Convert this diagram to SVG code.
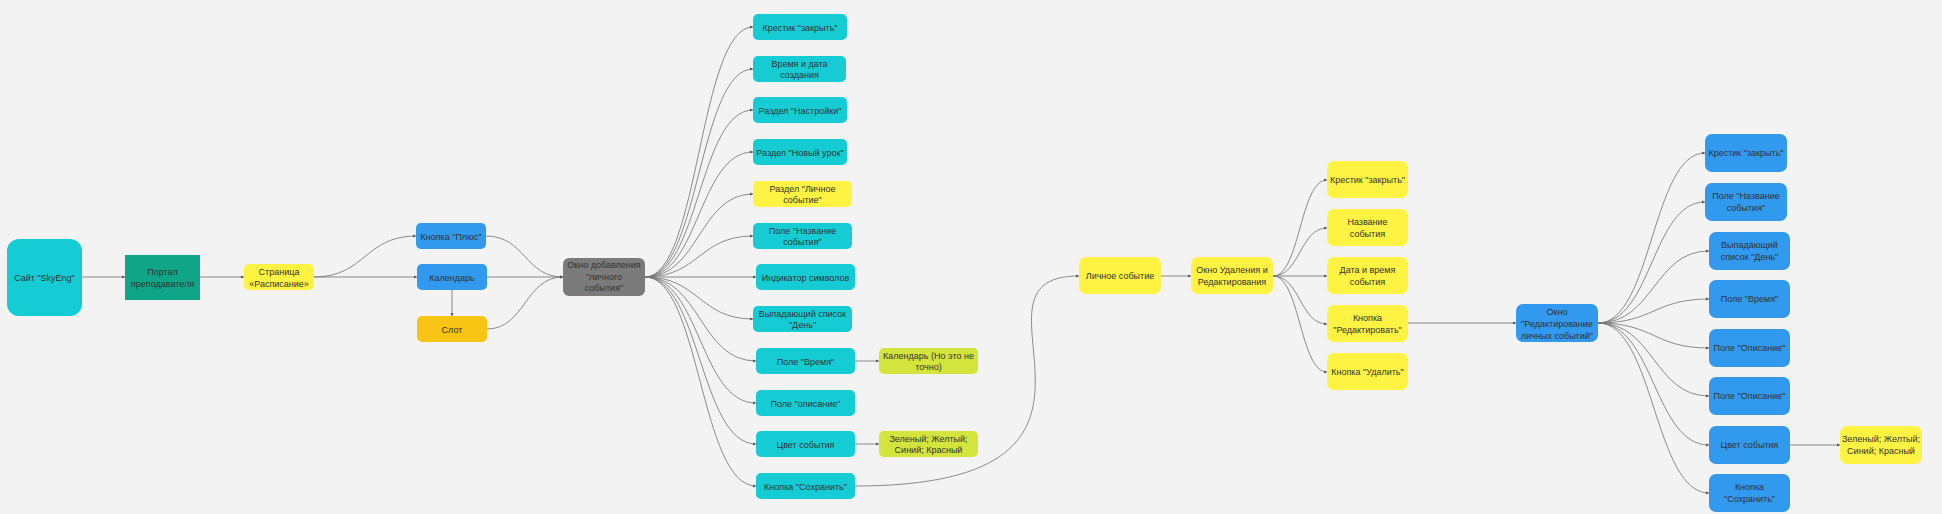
<svg xmlns="http://www.w3.org/2000/svg" width="1942" height="514" viewBox="0 0 1942 514">
<defs>
<marker id="ah" markerWidth="3.5" markerHeight="3.5" refX="3.5" refY="1.75" orient="auto" markerUnits="userSpaceOnUse">
<path d="M0,0 L3.5,1.75 L0,3.5 Z" fill="#555"/>
</marker>
<style>
.bg{fill:#f3f3f3}
.e{fill:none;stroke:#777;stroke-width:0.85;marker-end:url(#ah)}
text{font-family:"Liberation Sans","Noto Sans",Arial,sans-serif;font-size:9px;fill:#333;text-anchor:middle}
.cy{fill:#15ccd4}
.bl{fill:#3199ee}
.ye{fill:#fef342}
.sl{fill:#f8c514}
.li{fill:#d3e43c}
.gr{fill:#7b7b7b}
.tg{fill:#0fa586}
</style>
</defs>
<rect class="bg" x="0" y="0" width="1942" height="514"/>

<g id="connectors">
<path class="e" d="M82,277 L125,277"/>
<path class="e" d="M200,277 L244,277"/>
<path class="e" d="M314,277 C365,277 365,236 416,236"/>
<path class="e" d="M314,277 L417,277"/>
<path class="e" d="M452,290 L452,316"/>
<path class="e" d="M486,236 C525,236 525,277 563,277"/>
<path class="e" d="M487,277 L563,277"/>
<path class="e" d="M487,329 C525,329 525,277 563,277"/>
<path class="e" d="M645,277 C699,277 699,27 753,27"/>
<path class="e" d="M645,277 C699,277 699,69 753,69"/>
<path class="e" d="M645,277 C699,277 699,110 753,110"/>
<path class="e" d="M645,277 C699,277 699,152 753,152"/>
<path class="e" d="M645,277 C699,277 699,194 753,194"/>
<path class="e" d="M645,277 C699,277 699,236 753,236"/>
<path class="e" d="M645,277 L756,277"/>
<path class="e" d="M645,277 C699,277 699,319 753,319"/>
<path class="e" d="M645,277 C700,277 700,361 756,361"/>
<path class="e" d="M645,277 C700,277 700,403 756,403"/>
<path class="e" d="M645,277 C700,277 700,444 756,444"/>
<path class="e" d="M645,277 C700,277 700,486 756,486"/>
<path class="e" d="M855,361 L879,361"/>
<path class="e" d="M855,444 L879,444"/>
<path class="e" d="M855,486 C1170,486 946,276 1079,276"/>
<path class="e" d="M1161,276 L1191,276"/>
<path class="e" d="M1273,276 C1300,276 1300,180 1327,180"/>
<path class="e" d="M1273,276 C1300,276 1300,228 1327,228"/>
<path class="e" d="M1273,276 L1327,276"/>
<path class="e" d="M1273,276 C1300,276 1300,324 1327,324"/>
<path class="e" d="M1273,276 C1300,276 1300,372 1327,372"/>
<path class="e" d="M1408,323 L1516,323"/>
<path class="e" d="M1598,323 C1652,323 1652,153 1705,153"/>
<path class="e" d="M1598,323 C1652,323 1652,202 1705,202"/>
<path class="e" d="M1598,323 C1654,323 1654,251 1709,251"/>
<path class="e" d="M1598,323 C1654,323 1654,299 1709,299"/>
<path class="e" d="M1598,323 C1654,323 1654,348 1709,348"/>
<path class="e" d="M1598,323 C1654,323 1654,396 1709,396"/>
<path class="e" d="M1598,323 C1654,323 1654,445 1709,445"/>
<path class="e" d="M1598,323 C1654,323 1654,493 1709,493"/>
<path class="e" d="M1790,445 L1840,445"/>
</g>

<g id="n-site"><rect class="cy" x="7" y="239" width="75" height="77" rx="12"/><text x="44.5" y="280.5">Сайт "SkyEng"</text></g>
<g id="n-portal"><rect class="tg" x="125" y="255" width="75" height="45"/><text x="162.5" y="275">Портал</text><text x="162.5" y="287">преподавателя</text></g>
<g id="n-page"><rect class="ye" x="244" y="264" width="70" height="26" rx="5"/><text x="279" y="275">Страница</text><text x="279" y="287">«Расписание»</text></g>
<g id="n-plus"><rect class="bl" x="416" y="223" width="70" height="26" rx="5"/><text x="451" y="239.5">Кнопка "Плюс"</text></g>
<g id="n-calendar"><rect class="bl" x="417" y="264" width="70" height="26" rx="5"/><text x="452" y="280.5">Календарь</text></g>
<g id="n-slot"><rect class="sl" x="417" y="316" width="70" height="26" rx="5"/><text x="452" y="332.5">Слот</text></g>
<g id="n-addwin"><rect class="gr" x="563" y="258" width="82" height="38" rx="6"/><text x="604" y="268">Окно добавления</text><text x="604" y="279.5">"личного</text><text x="604" y="291">события"</text></g>

<g id="n-a1"><rect class="cy" x="753" y="14" width="94" height="26" rx="5"/><text x="800" y="30.5">Крестик "закрыть"</text></g>
<g id="n-a2"><rect class="cy" x="753" y="56" width="93" height="26" rx="5"/><text x="799.5" y="66.5">Время и дата</text><text x="799.5" y="78">создания</text></g>
<g id="n-a3"><rect class="cy" x="753" y="97" width="94" height="26" rx="5"/><text x="800" y="113.5">Раздел "Настройки"</text></g>
<g id="n-a4"><rect class="cy" x="753" y="139" width="94" height="26" rx="5"/><text x="800" y="155.5">Раздел "Новый урок"</text></g>
<g id="n-a5"><rect class="ye" x="753" y="181" width="99" height="26" rx="5"/><text x="802.5" y="191.5">Раздел "Личное</text><text x="802.5" y="203">событие"</text></g>
<g id="n-a6"><rect class="cy" x="753" y="223" width="99" height="26" rx="5"/><text x="802.5" y="233.5">Поле "Название</text><text x="802.5" y="245">события"</text></g>
<g id="n-a7"><rect class="cy" x="756" y="264" width="99" height="26" rx="5"/><text x="805.5" y="280.5">Индикатор символов</text></g>
<g id="n-a8"><rect class="cy" x="753" y="306" width="99" height="26" rx="5"/><text x="802.5" y="316.5">Выпадающий список</text><text x="802.5" y="328">"День"</text></g>
<g id="n-a9"><rect class="cy" x="756" y="348" width="99" height="26" rx="5"/><text x="805.5" y="364.5">Поле "Время"</text></g>
<g id="n-a10"><rect class="cy" x="756" y="390" width="99" height="26" rx="5"/><text x="805.5" y="406.5">Поле "описание"</text></g>
<g id="n-a11"><rect class="cy" x="756" y="431" width="99" height="26" rx="5"/><text x="805.5" y="447.5">Цвет события</text></g>
<g id="n-a12"><rect class="cy" x="756" y="473" width="99" height="26" rx="5"/><text x="805.5" y="489.5">Кнопка "Сохранить"</text></g>
<g id="n-a9c"><rect class="li" x="879" y="348" width="99" height="26" rx="5"/><text x="928.5" y="358.5">Календарь (Но это не</text><text x="928.5" y="370">точно)</text></g>
<g id="n-a11c"><rect class="li" x="879" y="431" width="99" height="26" rx="5"/><text x="928.5" y="441.5">Зеленый; Желтый;</text><text x="928.5" y="453">Синий; Красный</text></g>

<g id="n-personal"><rect class="ye" x="1079" y="257" width="82" height="37" rx="7"/><text x="1120" y="279">Личное событие</text></g>
<g id="n-delwin"><rect class="ye" x="1191" y="257" width="82" height="37" rx="7"/><text x="1232" y="273">Окно Удаления и</text><text x="1232" y="285">Редактирования</text></g>
<g id="n-d1"><rect class="ye" x="1327" y="161" width="81" height="37" rx="7"/><text x="1367.5" y="183">Крестик "закрыть"</text></g>
<g id="n-d2"><rect class="ye" x="1327" y="209" width="81" height="37" rx="7"/><text x="1367.5" y="225">Название</text><text x="1367.5" y="237">события</text></g>
<g id="n-d3"><rect class="ye" x="1327" y="257" width="81" height="37" rx="7"/><text x="1367.5" y="273">Дата и время</text><text x="1367.5" y="285">события</text></g>
<g id="n-d4"><rect class="ye" x="1327" y="305" width="81" height="37" rx="7"/><text x="1367.5" y="321">Кнопка</text><text x="1367.5" y="333">"Редактировать"</text></g>
<g id="n-d5"><rect class="ye" x="1327" y="353" width="81" height="37" rx="7"/><text x="1367.5" y="375">Кнопка "Удалить"</text></g>

<g id="n-editwin"><rect class="bl" x="1516" y="304" width="82" height="38" rx="7"/><text x="1557" y="315">Окно</text><text x="1557" y="327">"Редактирование</text><text x="1557" y="339">личных событий"</text></g>
<g id="n-e1"><rect class="bl" x="1705" y="134" width="82" height="38" rx="7"/><text x="1746" y="156">Крестик "закрыть"</text></g>
<g id="n-e2"><rect class="bl" x="1705" y="183" width="82" height="38" rx="7"/><text x="1746" y="199">Поле "Название</text><text x="1746" y="211">события"</text></g>
<g id="n-e3"><rect class="bl" x="1709" y="232" width="81" height="38" rx="7"/><text x="1749.5" y="248">Выпадающий</text><text x="1749.5" y="260">список "День"</text></g>
<g id="n-e4"><rect class="bl" x="1709" y="280" width="81" height="38" rx="7"/><text x="1749.5" y="302">Поле "Время"</text></g>
<g id="n-e5"><rect class="bl" x="1709" y="329" width="81" height="38" rx="7"/><text x="1749.5" y="351">Поле "Описание"</text></g>
<g id="n-e6"><rect class="bl" x="1709" y="377" width="81" height="38" rx="7"/><text x="1749.5" y="399">Поле "Описание"</text></g>
<g id="n-e7"><rect class="bl" x="1709" y="426" width="81" height="38" rx="7"/><text x="1749.5" y="448">Цвет события</text></g>
<g id="n-e8"><rect class="bl" x="1709" y="474" width="81" height="38" rx="7"/><text x="1749.5" y="490">Кнопка</text><text x="1749.5" y="502">"Сохранить"</text></g>
<g id="n-e7c"><rect class="ye" x="1840" y="426" width="82" height="38" rx="7"/><text x="1881" y="442">Зеленый; Желтый;</text><text x="1881" y="454">Синий; Красный</text></g>
</svg>
